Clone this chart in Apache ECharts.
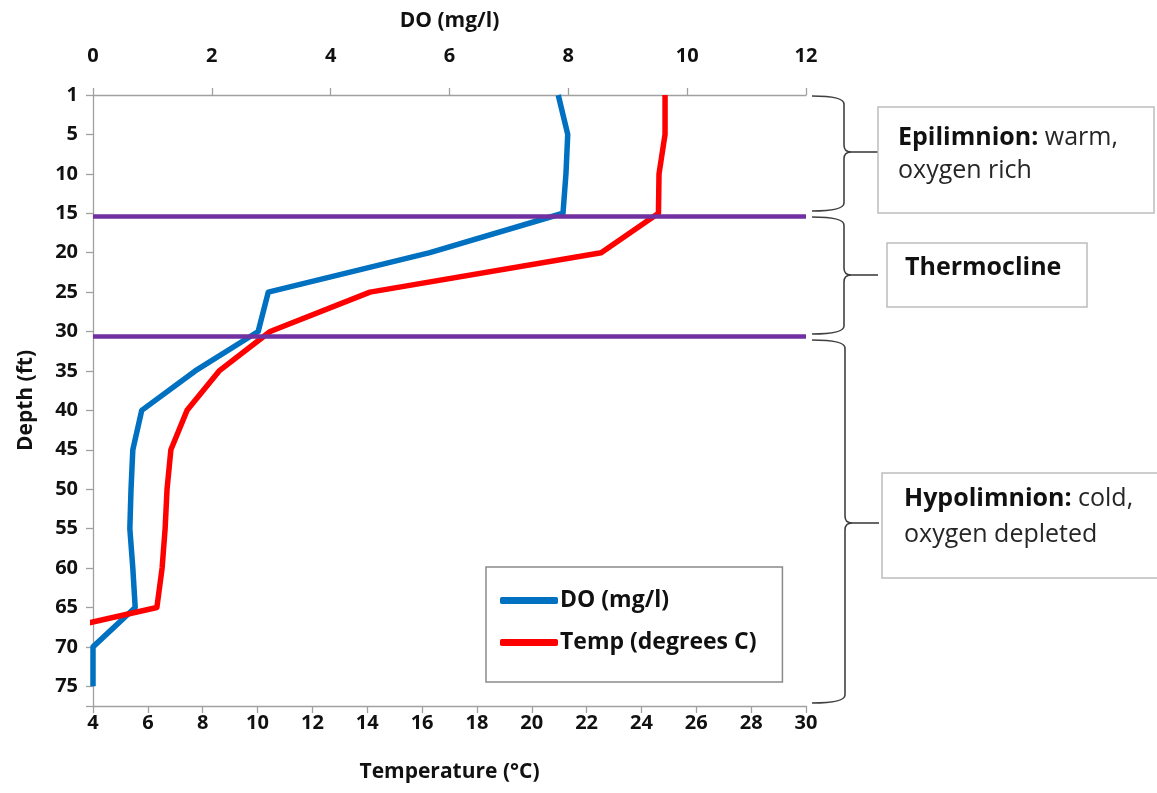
<!DOCTYPE html>
<html><head><meta charset="utf-8">
<script src="https://cdn.jsdelivr.net/npm/echarts@6/dist/echarts.min.js"></script>
<style>html,body{margin:0;padding:0;background:#fff}#c{width:1157px;height:793px}</style>
</head><body><div id="c"></div>
<script>
// Depth categories (ft), evenly spaced on the chart
const depths = [1,5,10,15,20,25,30,35,40,45,50,55,60,65,70,75];
// Dissolved oxygen (mg/l), top axis
const doValues = [7.83,7.99,7.96,7.91,5.67,2.95,2.78,1.72,0.82,0.67,0.64,0.62,0.67,0.71,0,0];
// Temperature (degrees C), bottom axis
const tempValues = [24.86,24.86,24.64,24.62,22.53,14.1,10.46,8.6,7.43,6.84,6.7,6.63,6.52,6.33,0,0];
// Layer boundaries, in depth-category position units (1 = first category)
const boundaryPos = [4.07, 7.12];
const seriesNames = ['DO (mg/l)', 'Temp (degrees C)'];

const FONT = 'Open Sans';
const chart = echarts.init(document.getElementById('c'), null, {renderer: 'canvas'});

const braceStyle = {fill: 'none', stroke: '#404040', lineWidth: 1.6};
function brace(x0, xm, xt, y0, y1, ym) {
  const s = braceStyle;
  return [
    {type: 'bezierCurve', shape: {x1: x0, y1: y0, x2: xm, y2: y0 + 8, cpx1: xm, cpy1: y0}, style: s},
    {type: 'line', shape: {x1: xm, y1: y0 + 8, x2: xm, y2: ym - 7}, style: s},
    {type: 'bezierCurve', shape: {x1: xm, y1: ym - 7, x2: xm + 7, y2: ym, cpx1: xm, cpy1: ym}, style: s},
    {type: 'line', shape: {x1: xm + 7, y1: ym, x2: xt, y2: ym}, style: s},
    {type: 'bezierCurve', shape: {x1: xm + 7, y1: ym, x2: xm, y2: ym + 7, cpx1: xm, cpy1: ym}, style: s},
    {type: 'line', shape: {x1: xm, y1: ym + 7, x2: xm, y2: y1 - 8}, style: s},
    {type: 'bezierCurve', shape: {x1: xm, y1: y1 - 8, x2: x0, y2: y1, cpx1: xm, cpy1: y1}, style: s}
  ];
}

const AXIS_GRAY = '#a0a0a0';
const mkLine = () => ({show: true, onZero: false, lineStyle: {color: AXIS_GRAY, width: 1.3}});
const mkTick = () => ({show: true, inside: false, length: 7, lineStyle: {color: AXIS_GRAY, width: 1.3}});
const labelFont = () => ({fontFamily: FONT, fontWeight: 'bold', fontSize: 20, color: '#111'});
const nameFont = () => ({fontFamily: FONT, fontWeight: 'bold', fontSize: 21, color: '#111'});

const option = {
  backgroundColor: '#fff',
  animation: false,
  grid: {left: 93, right: 351, top: 95, bottom: 87, containLabel: false},
  legend: {
    data: seriesNames,
    orient: 'vertical',
    left: 486, top: 567,
    padding: [22, 26, 28, 14],
    itemGap: 19,
    itemWidth: 58, itemHeight: 7,
    icon: 'roundRect',
    backgroundColor: '#fff',
    borderColor: '#8a8a8a', borderWidth: 1.5, borderRadius: 0,
    textStyle: {fontFamily: FONT, fontWeight: 'bold', fontSize: 23, color: '#111', padding: [0, 0, 0, -3]}
  },
  xAxis: [
    {
      type: 'value', position: 'top', min: 0, max: 12, interval: 2,
      name: 'DO (mg/l)', nameLocation: 'middle', nameGap: 63, nameTextStyle: nameFont(),
      axisLine: mkLine(), axisTick: mkTick(), splitLine: {show: false},
      axisLabel: Object.assign({margin: 29}, labelFont())
    },
    {
      type: 'value', position: 'bottom', min: 4, max: 30, interval: 2,
      name: 'Temperature (°C)', nameLocation: 'middle', nameGap: 56, nameTextStyle: nameFont(),
      axisLine: mkLine(), axisTick: mkTick(), splitLine: {show: false},
      axisLabel: Object.assign({margin: 7}, labelFont())
    }
  ],
  yAxis: {
    type: 'value', inverse: true, min: 1, max: 16.5, interval: 1,
    name: 'Depth (ft)', nameLocation: 'middle', nameGap: 56, nameRotate: 90,
    nameTextStyle: nameFont(),
    axisLine: mkLine(), axisTick: mkTick(), splitLine: {show: false},
    axisLabel: Object.assign({
      margin: 15,
      formatter: v => Number.isInteger(v) && v >= 1 && v <= depths.length ? String(depths[v - 1]) : ''
    }, labelFont())
  },
  series: [
    {
      name: seriesNames[0], type: 'line', xAxisIndex: 0, yAxisIndex: 0,
      data: depths.map((d, i) => [doValues[i], i + 1]),
      showSymbol: false, symbol: 'none',
      lineStyle: {color: '#0070c0', width: 5.5, join: 'round'},
      itemStyle: {color: '#0070c0'}, z: 2
    },
    {
      name: seriesNames[1], type: 'line', xAxisIndex: 1, yAxisIndex: 0,
      data: depths.map((d, i) => [tempValues[i], i + 1]),
      showSymbol: false, symbol: 'none',
      lineStyle: {color: '#ff0000', width: 5.5, join: 'round'},
      itemStyle: {color: '#ff0000'}, z: 3,
      markLine: {
        silent: true, symbol: 'none', label: {show: false}, z: 5,
        lineStyle: {color: '#7030a0', width: 4.5, type: 'solid'},
        data: boundaryPos.map(v => ({yAxis: v}))
      }
    }
  ],
  graphic: [].concat(
    brace(812, 844, 878, 96, 211, 152),
    brace(812, 844, 878, 217, 334, 275),
    brace(812, 845, 879, 340, 703, 523),
    [
      {type: 'rect', shape: {x: 878, y: 107, width: 276, height: 106}, style: {fill: '#fff', stroke: '#bdbdbd', lineWidth: 1.5}},
      {type: 'rect', shape: {x: 887, y: 243, width: 200, height: 64}, style: {fill: '#fff', stroke: '#bdbdbd', lineWidth: 1.5}},
      {type: 'rect', shape: {x: 882, y: 473, width: 285, height: 105}, style: {fill: '#fff', stroke: '#bdbdbd', lineWidth: 1.5}},
      {type: 'text', x: 898, y: 121, style: {
        text: '{b|Epilimnion:} warm,\noxygen rich',
        fontFamily: FONT, fontSize: 25, fill: '#262626', lineHeight: 33,
        rich: {b: {fontFamily: FONT, fontWeight: 'bold', fontSize: 25, fill: '#111', lineHeight: 33}}
      }},
      {type: 'text', x: 905, y: 255, style: {
        text: 'Thermocline', fontFamily: FONT, fontWeight: 'bold', fontSize: 25, fill: '#111'
      }},
      {type: 'text', x: 904, y: 481, style: {
        text: '{b|Hypolimnion:} cold,\noxygen depleted',
        fontFamily: FONT, fontSize: 25, fill: '#262626', lineHeight: 36,
        rich: {b: {fontFamily: FONT, fontWeight: 'bold', fontSize: 25, fill: '#111', lineHeight: 36}}
      }}
    ]
  )
};
chart.setOption(option);
</script>
</body></html>
